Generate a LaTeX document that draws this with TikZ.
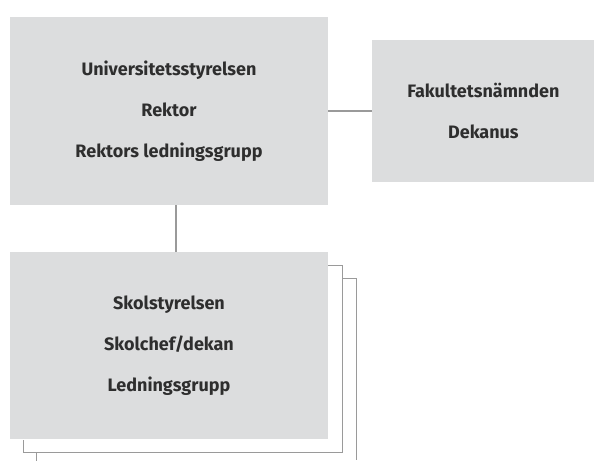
\documentclass[tikz,border=0pt]{standalone}
\usepackage{fontspec}
\setmainfont{Fira Sans}
\usepackage{xcolor}
\usepackage{tikz}
\usetikzlibrary{positioning,calc}
\definecolor{orgfill}{HTML}{DCDDDE}
\definecolor{orgline}{HTML}{9A9A9A}
\definecolor{orgtext}{HTML}{2E2E2E}

\tikzset{
  orgbox/.style={fill=orgfill,inner sep=0pt,align=center,text=orgtext,
                 font=\bfseries\fontsize{18}{41}\selectfont},
  orglink/.style={draw=orgline,line width=1.1pt}
}

\begin{document}
\begin{tikzpicture}[x=1pt,y=-1pt]
                \useasboundingbox (0,0) rectangle (601,460);
                \node[orgbox,minimum width=318pt,minimum height=188pt] (styr) at (169,111) {
                    Universitetsstyrelsen\\
                    Rektor\\
                    Rektors ledningsgrupp
                };
                \node[orgbox,minimum width=222pt,minimum height=141pt,right=44pt of styr] (fak) {
                    Fakultetsnämnden\\
                    Dekanus
                };
                \node[orgbox,minimum width=318pt,minimum height=187pt,below=47pt of styr] (skola) {
                    Skolstyrelsen\\
                    Skolchef/dekan\\
                    Ledningsgrupp
                };
                % stacked frames behind the school box
                \coordinate (f1) at ($(skola.north east)+(0,13)$);
                \coordinate (f2) at ($(skola.north east)+(28,26)$);
                \coordinate (f3) at ($(skola.south west)+(27,21)$);
                \draw[orglink] (styr) -- (fak);
                \draw[orglink] ([xshift=7pt]styr.south) -- ([xshift=7pt]skola.north);
                \draw[orglink] (f1) -| ($(skola.south east)+(14,13)$) -| ([xshift=14pt]skola.south west);
                \draw[orglink] ($(f1)+(14,13)$) -- (f2) -- (f2 |- 0,460);
                \draw[orglink] ($(skola.south west)+(27,13)$) -- (f3);
            \end{tikzpicture}
\end{document}
